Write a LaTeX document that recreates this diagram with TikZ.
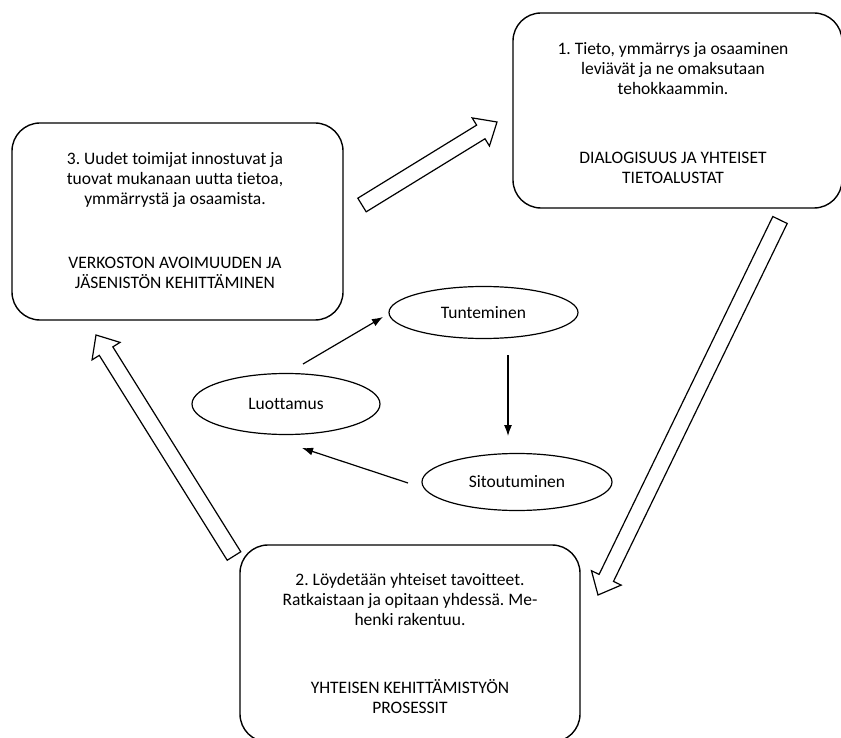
\documentclass[tikz,border=0pt]{standalone}
\usepackage{fontspec}
\setmainfont{Carlito}[Ligatures=NoCommon]
\usetikzlibrary{calc,arrows.meta,shapes.geometric}
\frenchspacing
\tikzset{
  bigbox/.style={draw, line width=1.4pt, rounded corners=28pt, inner sep=0pt},
  txt/.style={align=center, font=\fontsize{17.5}{20}\selectfont, inner sep=0pt},
  oval/.style={draw, ellipse, line width=1.2pt, inner sep=0pt, font=\fontsize{17.5}{20}\selectfont},
  thin arrow/.style={line width=1.2pt, -{Latex[length=11pt,width=8pt]}},
  barrow/.style={draw, line width=1.2pt, fill=white, line join=miter}
}
\newcommand\blockarrow[2]{%
  \coordinate (#1-h) at ($(#2)!19pt!(#1)$);
  \draw[barrow] ($(#1)!8pt!90:(#2)$) -- ($(#1-h)!8pt!90:(#2)$) -- ($(#1-h)!16.5pt!90:(#2)$)
    -- (#2) -- ($(#1-h)!16.5pt!-90:(#2)$) -- ($(#1-h)!8pt!-90:(#2)$) -- ($(#1)!8pt!-90:(#2)$) -- cycle;
}
\begin{document}
\begin{tikzpicture}[x=1pt,y=-1pt]
\useasboundingbox (0,0) rectangle (841,738);
\clip (0,0) rectangle (841,738);

% big boxes
\node[bigbox, minimum width=331pt, minimum height=197pt] (b3) at (177.5,221.5) {};
\node[bigbox, minimum width=329pt, minimum height=195pt] (b1) at (677.5,110.5) {};
\node[bigbox, minimum width=340pt, minimum height=197pt] (b2) at (410,643.5) {};

\node[txt] (t3a) at (175,180) {3. Uudet toimijat innostuvat ja\\tuovat mukanaan uutta tietoa,\\ymmärrystä ja osaamista.};
\node[txt] (t3b) at (175,273) {VERKOSTON AVOIMUUDEN JA\\JÄSENISTÖN KEHITTÄMINEN};

\node[txt] (t1a) at (673,69) {1. Tieto, ymmärrys ja osaaminen\\leviävät ja ne omaksutaan\\tehokkaammin.};
\node[txt] (t1b) at (673,167.5) {DIALOGISUUS JA YHTEISET\\TIETOALUSTAT};

\node[txt] (t2a) at (410,599) {2. Löydetään yhteiset tavoitteet.\\Ratkaistaan ja opitaan yhdessä. Me-\\henki rakentuu.};
\node[txt] (t2b) at (410,696.5) {YHTEISEN KEHITTÄMISTYÖN\\PROSESSIT};

% ellipses
\node[oval, minimum width=189pt, minimum height=52pt] (tun) at (483.5,312.5) {Tunteminen};
\node[oval, minimum width=188pt, minimum height=61pt] (luo) at (286,404) {Luottamus};
\node[oval, minimum width=190pt, minimum height=57pt] (sit) at (517,482) {Sitoutuminen};

% thin arrows (free-standing ends)
\coordinate (lt1) at (303,364);
\coordinate (lt2) at (383,317);
\coordinate (ts1) at (508,355);
\coordinate (ts2) at (508,436);
\coordinate (sl1) at (408,483);
\coordinate (sl2) at (302,448);
\draw[thin arrow] (lt1) -- (lt2);
\draw[thin arrow] (ts1) -- (ts2);
\draw[thin arrow] (sl1) -- (sl2);

% block arrows
\coordinate (aT) at (362,205);
\coordinate (aP) at (497,122);
\coordinate (bT) at (780,220);
\coordinate (bP) at (598,595);
\coordinate (cT) at (234,556);
\coordinate (cP) at (96,335);
\blockarrow{aT}{aP}
\blockarrow{bT}{bP}
\blockarrow{cT}{cP}
\end{tikzpicture}
\end{document}
